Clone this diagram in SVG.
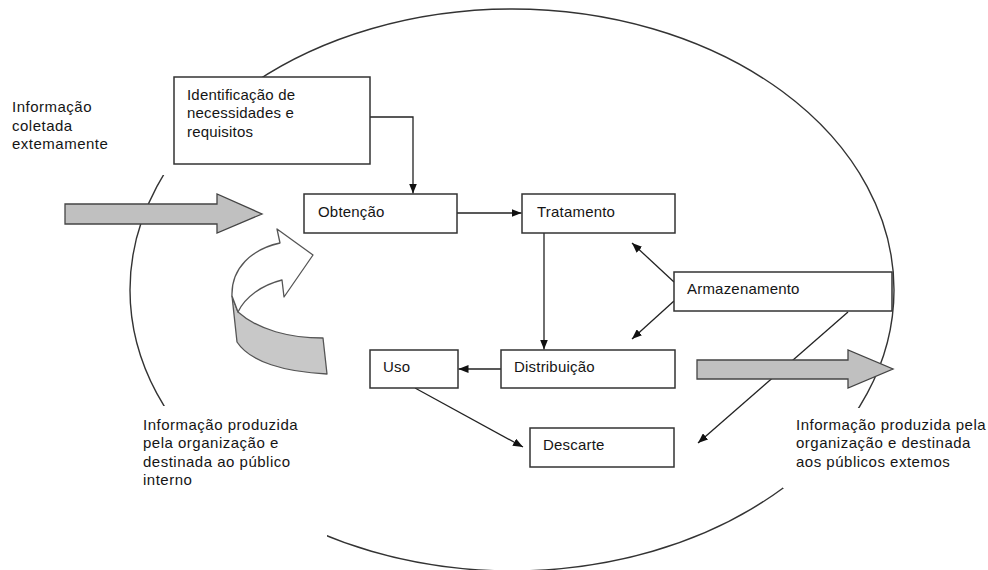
<svg xmlns="http://www.w3.org/2000/svg" width="988" height="570" viewBox="0 0 988 570">
  <style>
    .node rect { fill: #ffffff; stroke: #333333; stroke-width: 1.5; }
    .node text, .label text { font-family: "Liberation Sans", Arial, sans-serif; font-size: 15px; fill: #151515; }
    .node text { letter-spacing: 0.2px; }
    .label text { letter-spacing: 0.5px; }
    .label rect { fill: #ffffff; stroke: none; }
    .conn { fill: none; stroke: #222222; stroke-width: 1.3; marker-end: url(#ah); }
    .big { fill: #c0c0c0; stroke: #444444; stroke-width: 1.3; stroke-linejoin: miter; }
    .ring { fill: none; stroke: #333333; stroke-width: 1.4; }
    .curl { stroke: #555555; stroke-width: 1.3; stroke-linejoin: round; }
  </style>
  <defs>
    <marker id="ah" viewBox="0 0 10 8" refX="10" refY="4" markerWidth="10" markerHeight="8" orient="auto" markerUnits="userSpaceOnUse">
      <path d="M0,0 L10,4 L0,8 Z" fill="#111111"/>
    </marker>
  </defs>

  <rect width="988" height="570" fill="#ffffff"/>

  <!-- organisation boundary -->
  <ellipse id="boundary" class="ring" cx="512" cy="290" rx="382" ry="281"/>

  <!-- free-standing labels (white backing interrupts the boundary) -->
  <g id="label-coletada" class="label">
    <rect x="4" y="90" width="174" height="85"/>
    <text x="12" y="112">Informação</text>
    <text x="12" y="130.5">coletada</text>
    <text x="12" y="149">extemamente</text>
  </g>
  <g id="label-interno" class="label">
    <rect x="138" y="406" width="189" height="134"/>
    <text x="143" y="430">Informação produzida</text>
    <text x="143" y="448.3">pela organização e</text>
    <text x="143" y="466.6">destinada ao público</text>
    <text x="143" y="485">interno</text>
  </g>
  <g id="label-externo" class="label">
    <rect x="783" y="408" width="205" height="80"/>
    <text x="796" y="430">Informação produzida pela</text>
    <text x="796" y="448.3">organização e destinada</text>
    <text x="796" y="466.6">aos públicos extemos</text>
  </g>

  <!-- connectors -->
  <g id="connectors">
    <path class="conn" d="M370,117 H413 V193.5"/>
    <path class="conn" d="M457,213 H521.5"/>
    <path class="conn" d="M544,233 V349.5"/>
    <path class="conn" d="M501,369 H458.5"/>
    <path class="conn" d="M415,388 L523,447"/>
    <path class="conn" d="M674,282 L632,243"/>
    <path class="conn" d="M674,301 L632,339"/>
    <path class="conn" d="M848,312 L698,443"/>
  </g>

  <!-- inflow / outflow block arrows -->
  <g id="arrow-in">
    <path class="big" d="M65,204 H217 V194 L262,214 L217,233 V224 H65 Z"/>
  </g>
  <g id="arrow-out">
    <path class="big" d="M697,360 H848 V350 L893,369 L848,388 V379 H697 Z"/>
  </g>

  <!-- internal loop arrow -->
  <g id="arrow-loop">
    <path class="curl" fill="#c8c8c8" d="M232,296 L237,342 C250,362 285,372 327,374 L323,338 C290,338 258,330 238,312 Z"/>
    <path class="curl" fill="#ffffff" d="M232,296 C231,268 252,249 280,243 L277,229 L313,255 L284,297 L282,280 C262,285 245,297 238,312 Z"/>
  </g>

  <!-- process nodes -->
  <g id="identificacao" class="node">
    <rect x="174" y="77" width="196" height="87"/>
    <text x="187" y="99.5">Identificação de</text>
    <text x="187" y="118">necessidades e</text>
    <text x="187" y="136.5">requisitos</text>
  </g>
  <g id="obtencao" class="node">
    <rect x="304" y="194" width="153" height="39"/>
    <text x="318" y="217">Obtenção</text>
  </g>
  <g id="tratamento" class="node">
    <rect x="522" y="194" width="153" height="39"/>
    <text x="537" y="217">Tratamento</text>
  </g>
  <g id="armazenamento" class="node">
    <rect x="674" y="272" width="218" height="39"/>
    <text x="687" y="294">Armazenamento</text>
  </g>
  <g id="distribuicao" class="node">
    <rect x="501" y="350" width="174" height="38"/>
    <text x="514" y="372">Distribuição</text>
  </g>
  <g id="uso" class="node">
    <rect x="370" y="350" width="88" height="38"/>
    <text x="383" y="372">Uso</text>
  </g>
  <g id="descarte" class="node">
    <rect x="530" y="428" width="144" height="39"/>
    <text x="543" y="450">Descarte</text>
  </g>
</svg>
